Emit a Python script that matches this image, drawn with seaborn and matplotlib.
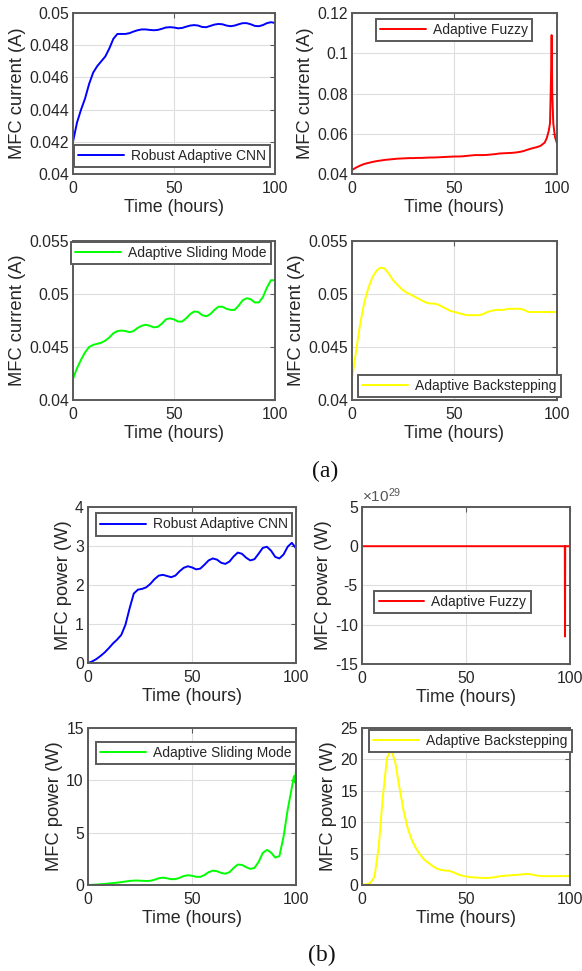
import numpy as np
import pandas as pd
import matplotlib
matplotlib.use("Agg")
import matplotlib.pyplot as plt
import seaborn as sns
from matplotlib.ticker import FuncFormatter

# ---------------- data ----------------
hours = np.arange(0, 101, 2)

cnn_current = [0.0420, 0.0432, 0.0440, 0.0447, 0.0456, 0.0463, 0.0467, 0.0470, 0.0473, 0.0478,
               0.0484, 0.0487, 0.04870, 0.04870, 0.04875, 0.04885, 0.04893, 0.04898, 0.04898, 0.04895,
               0.04893, 0.04895, 0.04902, 0.04910, 0.04912, 0.04910, 0.04905, 0.04907, 0.04915, 0.04922,
               0.04925, 0.04922, 0.04913, 0.04912, 0.04920, 0.04928, 0.04932, 0.04930, 0.04922, 0.04918,
               0.04922, 0.04930, 0.04937, 0.04937, 0.04930, 0.04920, 0.04918, 0.04925, 0.04937, 0.04943,
               0.04938]

fuzzy_current_hours = list(range(0, 95, 2)) + [95, 96, 96.6, 97.1, 97.4, 97.7, 98.2, 99, 100]
fuzzy_current = [0.0420, 0.0432, 0.0442, 0.0450, 0.0455, 0.0460, 0.0464, 0.0467, 0.0470, 0.0472,
                 0.0474, 0.0476, 0.0477, 0.0478, 0.0479, 0.0479, 0.0480, 0.0480, 0.0481, 0.0482,
                 0.0482, 0.0483, 0.0484, 0.0485, 0.0486, 0.0487, 0.0487, 0.0488, 0.0490, 0.0492,
                 0.0494, 0.0494, 0.0494, 0.0495, 0.0497, 0.0499, 0.0502, 0.0503, 0.0504, 0.0505,
                 0.0507, 0.0510, 0.0515, 0.0522, 0.0528, 0.0533, 0.0540, 0.0556,
                 0.0578, 0.0615, 0.0652, 0.0883, 0.1090, 0.0801, 0.0652, 0.0585, 0.0552]

sliding_current = [0.0420, 0.0430, 0.0438, 0.0445, 0.0450, 0.0452, 0.0453, 0.0454, 0.0456, 0.0459,
                   0.0463, 0.0465, 0.04655, 0.0465, 0.0464, 0.0465, 0.0468, 0.0470, 0.0471, 0.0470,
                   0.04685, 0.0469, 0.0472, 0.0476, 0.0477, 0.0476, 0.0474, 0.0474, 0.0477, 0.0481,
                   0.04835, 0.0483, 0.0480, 0.0479, 0.0481, 0.0485, 0.0488, 0.0488, 0.0486, 0.0485,
                   0.0485, 0.0489, 0.0494, 0.0496, 0.0495, 0.0492, 0.0492, 0.0497, 0.0506, 0.0513,
                   0.0513]

backstep_current = [0.0420, 0.0446, 0.0472, 0.0492, 0.0506, 0.0516, 0.0522, 0.0525, 0.0524, 0.0519,
                    0.0513, 0.0509, 0.0505, 0.0502, 0.0500, 0.0498, 0.0496, 0.0494, 0.0492, 0.0491,
                    0.0491, 0.0490, 0.0488, 0.0486, 0.0484, 0.0483, 0.0482, 0.0481, 0.0480, 0.0480,
                    0.0480, 0.0480, 0.0481, 0.0483, 0.0484, 0.0485, 0.0485, 0.0485, 0.0486, 0.0486,
                    0.0486, 0.0486, 0.0485, 0.0483, 0.0483, 0.0483, 0.0483, 0.0483, 0.0483, 0.0483,
                    0.0483]

cnn_power = [0.00, 0.04, 0.10, 0.18, 0.27, 0.38, 0.50, 0.60, 0.72, 0.98,
             1.40, 1.78, 1.88, 1.90, 1.94, 2.03, 2.15, 2.24, 2.26, 2.23,
             2.20, 2.24, 2.35, 2.44, 2.48, 2.45, 2.40, 2.42, 2.52, 2.63,
             2.68, 2.65, 2.57, 2.54, 2.60, 2.73, 2.83, 2.80, 2.70, 2.63,
             2.66, 2.80, 2.95, 2.98, 2.88, 2.72, 2.68, 2.78, 2.98, 3.08,
             2.94]

fuzzy_power_hours = [0, 97.5, 97.6, 97.7, 100]
fuzzy_power = [0.0, 0.0, -11.5e29, 0.0, 0.0]

sliding_power_hours = list(range(0, 99, 2)) + [99, 99.5, 100]
sliding_power = [0.00, 0.02, 0.04, 0.07, 0.10, 0.14, 0.18, 0.22, 0.27, 0.33,
                 0.38, 0.42, 0.42, 0.40, 0.38, 0.40, 0.50, 0.64, 0.70, 0.64,
                 0.55, 0.56, 0.68, 0.85, 0.93, 0.88, 0.78, 0.78, 0.95, 1.22,
                 1.37, 1.32, 1.15, 1.08, 1.22, 1.62, 1.95, 1.92, 1.70, 1.54,
                 1.62, 2.20, 3.05, 3.35, 3.10, 2.62, 2.75, 4.60, 7.20, 9.30,
                 10.4, 9.8, 11.0]

backstep_power = [0.0, 0.1, 0.3, 1.3, 6.0, 14.0, 20.2, 21.6, 19.5, 15.5,
                  11.8, 9.0, 7.1, 5.8, 4.8, 4.0, 3.5, 3.0, 2.6, 2.4,
                  2.3, 2.25, 2.0, 1.7, 1.5, 1.35, 1.25, 1.2, 1.15, 1.12,
                  1.12, 1.15, 1.25, 1.38, 1.45, 1.5, 1.55, 1.6, 1.65, 1.72,
                  1.75, 1.65, 1.5, 1.42, 1.4, 1.4, 1.4, 1.42, 1.42, 1.4,
                  1.42]

# ---------------- style ----------------
sns.set_theme(style="white")
plt.rcParams["font.family"] = ["Liberation Sans", "DejaVu Sans"]
plt.rcParams["axes.unicode_minus"] = False
plt.rcParams["mathtext.fontset"] = "custom"
plt.rcParams["mathtext.rm"] = "Liberation Sans"
plt.rcParams["mathtext.it"] = "Liberation Sans"

TEXT = "#262626"
FRAME = "#5a5a5a"
GRID = "#dedede"

fig = plt.figure(figsize=(5.82, 9.71), dpi=100)

# (name, x, y, color, axes rect, ylim, yticks, ylabel, legend upper-left anchor)
panels = [
    ("Robust Adaptive CNN", hours, cnn_current, "#0000ff",
     [0.1254, 0.8208, 0.3471, 0.1658], (0.04, 0.05), [0.04, 0.042, 0.044, 0.046, 0.048, 0.05],
     "MFC current (A)", (0.005, 0.18)),
    ("Adaptive Fuzzy", fuzzy_current_hours, fuzzy_current, "#ff0000",
     [0.6048, 0.8208, 0.3522, 0.1658], (0.04, 0.12), [0.04, 0.06, 0.08, 0.1, 0.12],
     "MFC current (A)", (0.117, 0.963)),
    ("Adaptive Sliding Mode", hours, sliding_current, "#00ff00",
     [0.1254, 0.5881, 0.3471, 0.1637], (0.04, 0.055), [0.04, 0.045, 0.05, 0.055],
     "MFC current (A)", (-0.01, 0.994)),
    ("Adaptive Backstepping", hours, backstep_current, "#ffff00",
     [0.6048, 0.5881, 0.3522, 0.1637], (0.04, 0.055), [0.04, 0.045, 0.05, 0.055],
     "MFC current (A)", (0.03, 0.157)),
    ("Robust Adaptive CNN", hours, cnn_power, "#0000ff",
     [0.1512, 0.3172, 0.3574, 0.1607], (0, 4), [0, 1, 2, 3, 4],
     "MFC power (W)", (0.04, 0.96)),
    ("Adaptive Fuzzy", fuzzy_power_hours, fuzzy_power, "#ff0000",
     [0.6220, 0.3162, 0.3574, 0.1617], (-15e29, 5e29), [-15e29, -10e29, -5e29, 0, 5e29],
     "MFC power (W)", (0.06, 0.465)),
    ("Adaptive Sliding Mode", sliding_power_hours, sliding_power, "#00ff00",
     [0.1512, 0.0886, 0.3574, 0.1617], (0, 15), [0, 5, 10, 15],
     "MFC power (W)", (0.04, 0.91)),
    ("Adaptive Backstepping", hours, backstep_power, "#ffff00",
     [0.6220, 0.0886, 0.3574, 0.1617], (0, 25), [0, 5, 10, 15, 20, 25],
     "MFC power (W)", (0.034, 0.987)),
]

for i, (name, x, y, color, rect, ylim, yticks, ylabel, anchor) in enumerate(panels):
    ax = fig.add_axes(rect)
    df = pd.DataFrame({"t": x, "v": y})
    sns.lineplot(data=df, x="t", y="v", ax=ax, color=color, lw=1.4, label=name,
                 sort=False, estimator=None)
    ax.set_xlim(0, 100)
    ax.set_ylim(*ylim)
    ax.set_xticks([0, 50, 100])
    ax.set_yticks(yticks)
    if i == 5:
        ax.yaxis.set_major_formatter(FuncFormatter(lambda v, p: f"{v / 1e29:g}"))
        ax.text(0.0, 1.015, r"$\times10^{29}$", transform=ax.transAxes,
                fontsize=11, color="#555555", ha="left", va="bottom")
    else:
        ax.yaxis.set_major_formatter(FuncFormatter(lambda v, p: f"{v:g}"))
    ax.grid(True, color=GRID, lw=0.8)
    ax.set_axisbelow(True)
    for s in ax.spines.values():
        s.set_color(FRAME)
        s.set_linewidth(1.4)
        s.set_visible(True)
    ax.tick_params(direction="in", top=True, right=True, length=3.5, width=0.8,
                   color=FRAME, labelsize=11.3, labelcolor=TEXT)
    ax.tick_params(axis="x", pad=5)
    ax.tick_params(axis="y", pad=3)
    ax.set_xlabel("Time (hours)", fontsize=12.8, color=TEXT, labelpad=2)
    ax.set_ylabel(ylabel, fontsize=13.2, color=TEXT, labelpad=2)
    leg = ax.legend(loc="upper left", bbox_to_anchor=anchor, fontsize=10,
                    frameon=True, fancybox=False, borderpad=0.3, borderaxespad=0,
                    handlelength=3.3, handletextpad=0.5)
    leg.get_frame().set_edgecolor(FRAME)
    leg.get_frame().set_linewidth(1.4)
    leg.get_frame().set_facecolor("white")
    leg.get_frame().set_alpha(1)
    for txt in leg.get_texts():
        txt.set_color(TEXT)

fig.text(0.558, 0.514, "(a)", fontsize=17, family="Liberation Serif", ha="center", va="center",
         color="#111111")
fig.text(0.553, 0.0165, "(b)", fontsize=17, family="Liberation Serif", ha="center", va="center",
         color="#111111")

fig.savefig("out.png", dpi=100)
